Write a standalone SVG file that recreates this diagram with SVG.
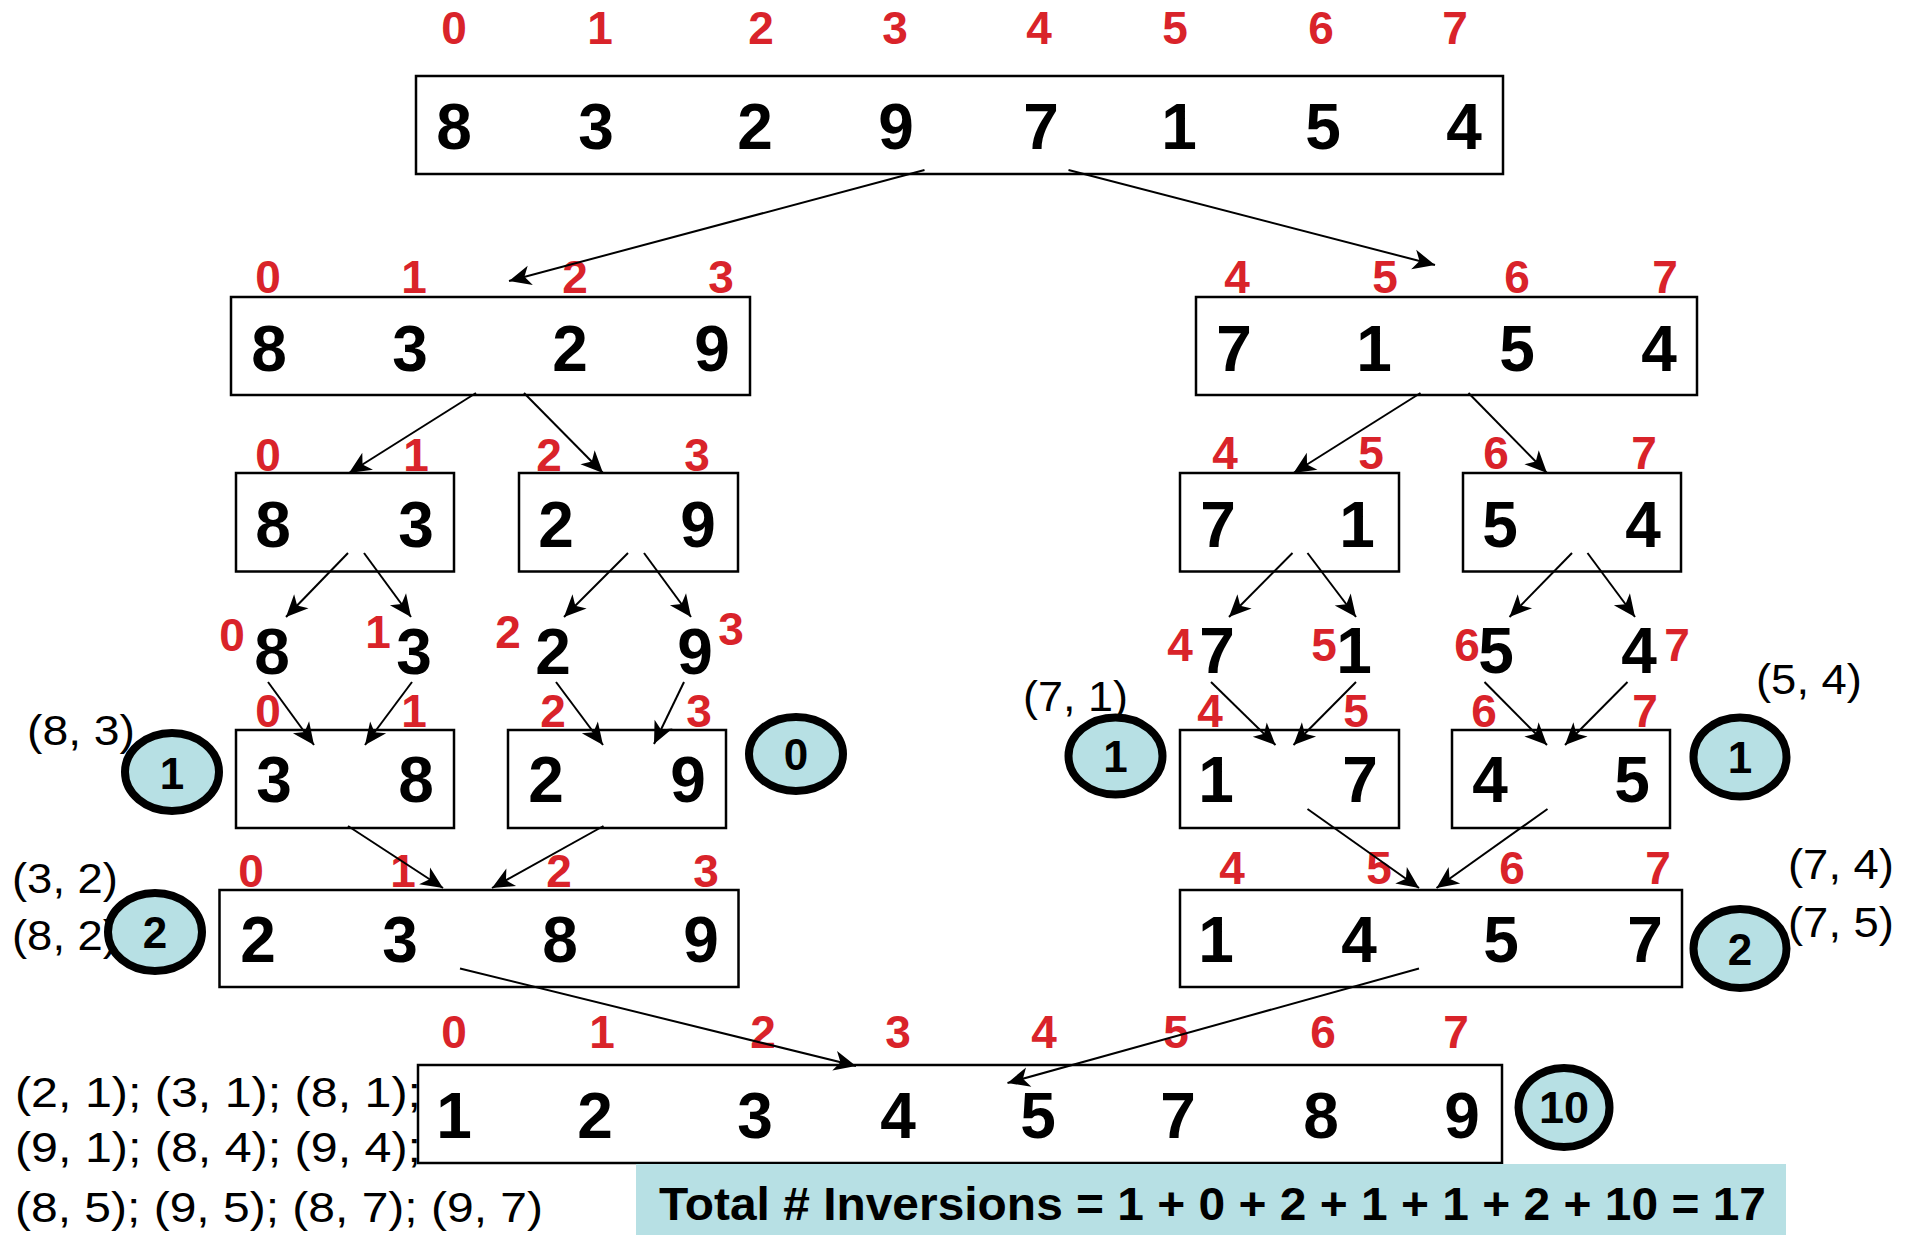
<svg xmlns="http://www.w3.org/2000/svg" width="1915" height="1235" viewBox="0 0 1915 1235">
<style>
text{font-family:'Liberation Sans',Arial,sans-serif}
.box{fill:#fff;stroke:#000;stroke-width:2.5}
.idx{font-weight:bold;font-size:46px;fill:#d9232a;text-anchor:middle}
.val{font-weight:bold;font-size:64px;fill:#000;text-anchor:middle}
.pair{font-size:43px;fill:#000}
.cnt ellipse{fill:#b7e0e4;stroke:#000;stroke-width:8}
.cnt text{font-weight:bold;font-size:44px;fill:#000;text-anchor:middle}
.conn line{stroke:#000;stroke-width:2;marker-end:url(#ah)}
.total{font-weight:bold;font-size:46px;fill:#000}
</style>
<defs>
<marker id="ah" markerUnits="userSpaceOnUse" markerWidth="26" markerHeight="22" viewBox="0 0 26 22" refX="24" refY="11" orient="auto">
<path d="M24,11 L2,1 L8,11 L2,21 Z" fill="#000"/>
</marker>
</defs>
<rect width="1915" height="1235" fill="#fff"/>

<g id="n-top">
<rect class="box" x="416" y="76" width="1087" height="98"/>
<text class="idx" y="44"><tspan x="454">0</tspan><tspan x="600">1</tspan><tspan x="761">2</tspan><tspan x="895">3</tspan><tspan x="1039">4</tspan><tspan x="1175">5</tspan><tspan x="1321">6</tspan><tspan x="1455">7</tspan></text>
<text class="val" y="149"><tspan x="454">8</tspan><tspan x="596">3</tspan><tspan x="755">2</tspan><tspan x="896">9</tspan><tspan x="1041">7</tspan><tspan x="1179">1</tspan><tspan x="1323">5</tspan><tspan x="1464">4</tspan></text>
</g>

<g id="n-l2-left">
<rect class="box" x="231" y="297" width="519" height="98"/>
<text class="idx" y="293"><tspan x="268">0</tspan><tspan x="414">1</tspan><tspan x="575">2</tspan><tspan x="721">3</tspan></text>
<text class="val" y="371"><tspan x="269">8</tspan><tspan x="410">3</tspan><tspan x="570">2</tspan><tspan x="712">9</tspan></text>
</g>
<g id="n-l2-right">
<rect class="box" x="1196" y="297" width="501" height="98"/>
<text class="idx" y="293"><tspan x="1237">4</tspan><tspan x="1385">5</tspan><tspan x="1517">6</tspan><tspan x="1665">7</tspan></text>
<text class="val" y="371"><tspan x="1234">7</tspan><tspan x="1374">1</tspan><tspan x="1517">5</tspan><tspan x="1659">4</tspan></text>
</g>

<g id="n-l3-a">
<rect class="box" x="236" y="473" width="218" height="98.5"/>
<text class="idx" y="471"><tspan x="268">0</tspan><tspan x="416">1</tspan></text>
<text class="val" y="547"><tspan x="273">8</tspan><tspan x="416">3</tspan></text>
</g>
<g id="n-l3-b">
<rect class="box" x="519" y="473" width="219" height="98.5"/>
<text class="idx" y="471"><tspan x="549">2</tspan><tspan x="697">3</tspan></text>
<text class="val" y="547"><tspan x="556">2</tspan><tspan x="698">9</tspan></text>
</g>
<g id="n-l3-e">
<rect class="box" x="1180" y="473" width="219" height="98.5"/>
<text class="idx" y="469"><tspan x="1225">4</tspan><tspan x="1371">5</tspan></text>
<text class="val" y="547"><tspan x="1218">7</tspan><tspan x="1357">1</tspan></text>
</g>
<g id="n-l3-f">
<rect class="box" x="1463" y="473" width="218" height="98.5"/>
<text class="idx" y="469"><tspan x="1496">6</tspan><tspan x="1644">7</tspan></text>
<text class="val" y="547"><tspan x="1500">5</tspan><tspan x="1643">4</tspan></text>
</g>

<g id="n-l4-0"><text class="idx" x="232" y="651">0</text><text class="val" x="272" y="674">8</text></g>
<g id="n-l4-1"><text class="idx" x="378" y="648">1</text><text class="val" x="414" y="674">3</text></g>
<g id="n-l4-2"><text class="idx" x="508" y="648">2</text><text class="val" x="553" y="674">2</text></g>
<g id="n-l4-3"><text class="idx" x="731" y="645">3</text><text class="val" x="695" y="674">9</text></g>
<g id="n-l4-4"><text class="idx" x="1180" y="661">4</text><text class="val" x="1217" y="673">7</text></g>
<g id="n-l4-5"><text class="idx" x="1324" y="661">5</text><text class="val" x="1354" y="673">1</text></g>
<g id="n-l4-6"><text class="idx" x="1467" y="661">6</text><text class="val" x="1496" y="673">5</text></g>
<g id="n-l4-7"><text class="idx" x="1677" y="661">7</text><text class="val" x="1639" y="673">4</text></g>

<g id="n-l5-c">
<rect class="box" x="236" y="730" width="218" height="98"/>
<text class="idx" y="727"><tspan x="268">0</tspan><tspan x="414">1</tspan></text>
<text class="val" y="802"><tspan x="274">3</tspan><tspan x="416">8</tspan></text>
</g>
<g id="n-l5-d">
<rect class="box" x="508" y="730" width="218" height="98"/>
<text class="idx" y="727"><tspan x="553">2</tspan><tspan x="699">3</tspan></text>
<text class="val" y="802"><tspan x="546">2</tspan><tspan x="688">9</tspan></text>
</g>
<g id="n-l5-g">
<rect class="box" x="1180" y="730" width="219" height="98"/>
<text class="idx" y="727"><tspan x="1210">4</tspan><tspan x="1356">5</tspan></text>
<text class="val" y="802"><tspan x="1216">1</tspan><tspan x="1360">7</tspan></text>
</g>
<g id="n-l5-h">
<rect class="box" x="1452" y="730" width="218" height="98"/>
<text class="idx" y="727"><tspan x="1484">6</tspan><tspan x="1645">7</tspan></text>
<text class="val" y="802"><tspan x="1490">4</tspan><tspan x="1632">5</tspan></text>
</g>

<g id="n-l6-left">
<rect class="box" x="219.5" y="890" width="519" height="97"/>
<text class="idx" y="887"><tspan x="251">0</tspan><tspan x="403">1</tspan><tspan x="559">2</tspan><tspan x="706">3</tspan></text>
<text class="val" y="962"><tspan x="258">2</tspan><tspan x="400">3</tspan><tspan x="560">8</tspan><tspan x="701">9</tspan></text>
</g>
<g id="n-l6-right">
<rect class="box" x="1180" y="890" width="502" height="97"/>
<text class="idx" y="884"><tspan x="1232">4</tspan><tspan x="1379">5</tspan><tspan x="1512">6</tspan><tspan x="1658">7</tspan></text>
<text class="val" y="962"><tspan x="1216">1</tspan><tspan x="1359">4</tspan><tspan x="1501">5</tspan><tspan x="1645">7</tspan></text>
</g>

<g id="n-bottom">
<rect class="box" x="418" y="1065" width="1084" height="98"/>
<text class="idx" y="1048"><tspan x="454">0</tspan><tspan x="602">1</tspan><tspan x="763">2</tspan><tspan x="898">3</tspan><tspan x="1044">4</tspan><tspan x="1176">5</tspan><tspan x="1323">6</tspan><tspan x="1456">7</tspan></text>
<text class="val" y="1138"><tspan x="454">1</tspan><tspan x="595">2</tspan><tspan x="755">3</tspan><tspan x="898">4</tspan><tspan x="1038">5</tspan><tspan x="1178">7</tspan><tspan x="1321">8</tspan><tspan x="1462">9</tspan></text>
</g>

<g id="pairs">
<text class="pair" x="27" y="745" textLength="108" lengthAdjust="spacingAndGlyphs">(8, 3)</text>
<text class="pair" x="12" y="893" textLength="106" lengthAdjust="spacingAndGlyphs">(3, 2)</text>
<text class="pair" x="12" y="950" textLength="106" lengthAdjust="spacingAndGlyphs">(8, 2)</text>
<text class="pair" x="1023" y="711" textLength="105" lengthAdjust="spacingAndGlyphs">(7, 1)</text>
<text class="pair" x="1756" y="694" textLength="106" lengthAdjust="spacingAndGlyphs">(5, 4)</text>
<text class="pair" x="1788" y="879" textLength="106" lengthAdjust="spacingAndGlyphs">(7, 4)</text>
<text class="pair" x="1788" y="937" textLength="106" lengthAdjust="spacingAndGlyphs">(7, 5)</text>
<text class="pair" x="15" y="1107" textLength="406" lengthAdjust="spacingAndGlyphs">(2, 1); (3, 1); (8, 1);</text>
<text class="pair" x="15" y="1162" textLength="406" lengthAdjust="spacingAndGlyphs">(9, 1); (8, 4); (9, 4);</text>
<text class="pair" x="15" y="1222" textLength="528" lengthAdjust="spacingAndGlyphs">(8, 5); (9, 5); (8, 7); (9, 7)</text>
</g>

<g id="counts" class="cnt">
<g id="c-83"><ellipse cx="172" cy="772" rx="47" ry="39"/><text x="172" y="789">1</text></g>
<g id="c-29"><ellipse cx="796" cy="754" rx="47" ry="37"/><text x="796" y="770">0</text></g>
<g id="c-2389"><ellipse cx="155" cy="932" rx="47" ry="39"/><text x="155" y="948">2</text></g>
<g id="c-71"><ellipse cx="1115.5" cy="756" rx="47" ry="38.5"/><text x="1115.5" y="772">1</text></g>
<g id="c-54"><ellipse cx="1740" cy="757" rx="46.5" ry="39.5"/><text x="1740" y="773">1</text></g>
<g id="c-1457"><ellipse cx="1740" cy="948.5" rx="46.5" ry="39.5"/><text x="1740" y="965">2</text></g>
<g id="c-final"><ellipse cx="1564" cy="1107.5" rx="45.5" ry="39.5"/><text x="1564" y="1123" textLength="50" lengthAdjust="spacingAndGlyphs">10</text></g>
</g>

<g id="total">
<rect x="636" y="1164" width="1150" height="71" fill="#b7e0e4"/>
<text class="total" x="659" y="1220" textLength="1107" lengthAdjust="spacingAndGlyphs">Total # Inversions = 1 + 0 + 2 + 1 + 1 + 2 + 10 = 17</text>
</g>

<g id="connectors" class="conn">
<line x1="924.5" y1="170" x2="509" y2="281"/>
<line x1="1068.5" y1="170" x2="1435" y2="265"/>
<line x1="476" y1="393" x2="349" y2="473"/>
<line x1="524" y1="393" x2="603" y2="473"/>
<line x1="348" y1="553" x2="286" y2="617"/>
<line x1="364" y1="553" x2="411" y2="617"/>
<line x1="628" y1="553" x2="564" y2="617"/>
<line x1="644" y1="553" x2="691" y2="617"/>
<line x1="268" y1="682" x2="314" y2="745"/>
<line x1="412" y1="682" x2="365" y2="745"/>
<line x1="556" y1="682" x2="603" y2="745"/>
<line x1="684" y1="682" x2="654" y2="744"/>
<line x1="348" y1="826" x2="443" y2="888"/>
<line x1="603.5" y1="826" x2="492" y2="888"/>
<line x1="460" y1="968.5" x2="856" y2="1066"/>
<line x1="1420.5" y1="393" x2="1293.5" y2="473"/>
<line x1="1468.5" y1="393" x2="1547" y2="473"/>
<line x1="1292.5" y1="553" x2="1229" y2="617"/>
<line x1="1307.5" y1="553" x2="1356" y2="617"/>
<line x1="1572" y1="553" x2="1509.5" y2="617"/>
<line x1="1587.5" y1="553" x2="1635" y2="617"/>
<line x1="1211" y1="682" x2="1275.5" y2="745"/>
<line x1="1356" y1="682" x2="1293.5" y2="745"/>
<line x1="1484.5" y1="682" x2="1547" y2="745"/>
<line x1="1627.5" y1="682" x2="1565" y2="745"/>
<line x1="1307.5" y1="809" x2="1419" y2="888"/>
<line x1="1547.5" y1="809" x2="1436.5" y2="888"/>
<line x1="1419" y1="968.5" x2="1007.5" y2="1083"/>
</g>
</svg>
